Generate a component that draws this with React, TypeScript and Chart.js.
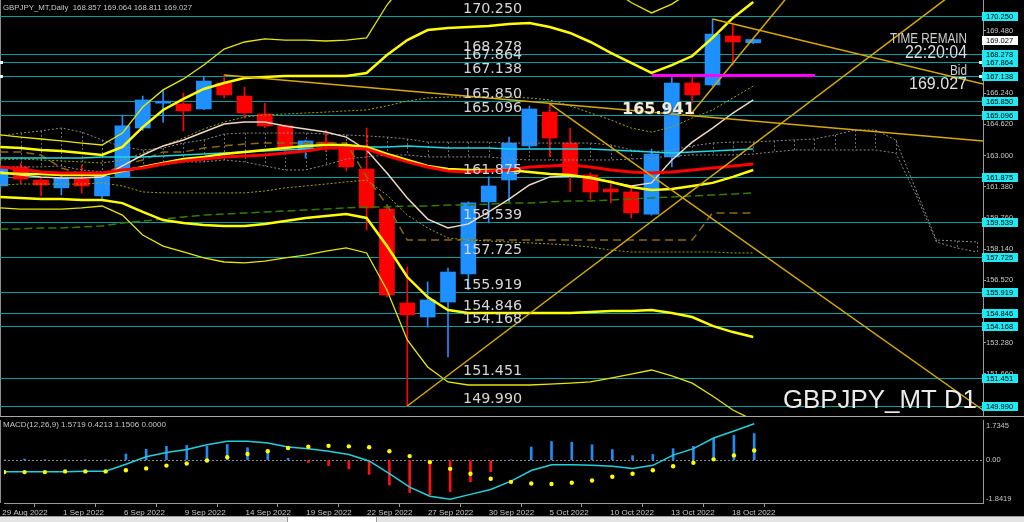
import React, { useEffect, useRef } from "react";
import { Chart, registerables } from "chart.js";
Chart.register(...registerables);

// ---------- candles (bar index 0 = 29 Aug 2022) ----------
const OPEN = [161.42,162.41,161.73,161.32,161.78,160.90,161.89,164.43,165.72,165.68,165.42,166.77,166.09,165.16,164.54,163.24,163.70,163.45,162.30,160.22,155.34,154.61,155.39,156.85,160.59,161.73,163.50,165.26,163.65,161.99,161.26,161.11,159.96,162.93,166.77,166.67,169.21,168.857];
const HIGH = [162.45,162.60,161.80,161.95,162.51,161.95,165.11,166.09,166.41,166.25,167.08,167.18,166.56,165.73,164.60,163.80,164.30,163.70,164.43,160.38,157.21,156.43,157.16,160.60,161.89,163.96,165.57,165.68,164.43,162.10,161.73,161.37,163.34,167.13,167.13,170.09,169.78,169.064];
const LOW = [161.30,161.55,160.90,160.95,161.05,160.69,161.85,164.30,164.74,164.28,165.38,166.00,164.95,164.45,163.20,162.87,163.20,162.20,159.13,155.65,149.99,154.09,152.54,156.02,159.50,160.59,163.40,162.93,161.11,160.74,160.54,159.76,159.90,162.41,165.73,166.60,167.70,168.811];
const CLOSE = [162.35,161.78,161.47,161.83,161.42,161.94,164.54,165.89,165.74,165.32,166.87,166.15,165.21,164.54,163.39,163.76,163.55,162.41,160.28,155.76,154.72,155.50,156.95,160.54,161.42,163.65,165.42,163.91,161.99,161.11,161.11,160.02,163.08,166.77,166.15,169.31,168.90,169.027];

// ---------- indicators ----------
const BB_MID = [162.09,162.04,162.04,161.99,161.99,161.99,162.20,162.41,162.61,162.82,162.93,163.08,163.19,163.29,163.39,163.50,163.55,163.55,163.45,163.08,162.77,162.46,162.30,162.25,162.25,162.25,162.15,162.04,161.99,161.83,161.63,161.37,161.21,161.26,161.42,161.58,161.89,162.25];
const BB_UP1 = [162.77,162.82,162.77,162.72,162.67,162.61,162.77,163.13,163.50,163.91,164.38,164.74,165.00,165.11,165.16,165.21,165.26,165.32,165.37,165.58,165.83,165.99,166.04,166.04,166.04,166.04,165.99,165.89,165.58,165.21,164.85,164.43,164.22,164.48,164.95,165.37,165.99,166.61];
const BB_LO1 = [161.47,161.52,161.52,161.52,161.52,161.58,161.42,161.11,161.06,161.06,161.06,161.06,161.06,161.16,161.32,161.42,161.52,161.63,161.73,160.95,159.91,159.24,158.72,158.61,158.56,158.51,158.46,158.41,158.35,158.25,158.09,157.99,157.99,157.99,157.99,157.99,157.94,157.94];
const BB_UP2 = [163.45,163.39,163.29,163.24,163.13,163.03,163.45,164.48,165.37,165.94,166.46,166.77,167.03,167.08,167.13,167.13,167.13,167.13,167.29,168.22,169.00,169.52,169.63,169.68,169.73,169.83,169.89,169.68,169.37,168.90,168.33,167.81,167.29,167.70,168.17,169.11,170.15,170.98];
const BB_LO2 = [160.85,160.80,160.74,160.74,160.69,160.69,160.53,160.07,159.65,159.50,159.39,159.34,159.34,159.44,159.60,159.76,159.86,159.96,159.76,158.30,156.69,155.65,154.98,154.82,154.82,154.82,154.82,154.82,154.82,154.87,154.92,154.92,154.98,154.82,154.61,154.15,153.83,153.57];
const BB_UP3 = [164.07,163.96,163.86,163.76,163.65,163.55,164.17,165.52,166.41,166.98,167.70,168.53,168.90,169.06,169.00,169.00,168.95,169.00,169.11,170.82,172.12,173.05,173.30,173.40,173.47,173.62,173.76,173.50,173.06,172.43,171.68,170.95,170.41,170.87,171.55,172.87,174.28,175.35];
const BB_LO3 = [160.28,160.22,160.22,160.22,160.28,160.38,159.91,158.87,158.30,157.99,157.68,157.47,157.42,157.52,157.68,157.83,158.04,158.20,157.94,156.02,153.42,152.02,151.24,151.08,151.08,151.08,151.08,151.13,151.18,151.24,151.44,151.65,151.86,151.55,151.18,150.51,149.78,149.26];
const MA_RED = [162.41,162.30,162.15,162.09,162.09,162.09,162.25,162.35,162.56,162.72,162.82,162.93,162.98,163.03,163.13,163.24,163.39,163.39,163.34,162.98,162.67,162.41,162.20,162.15,162.20,162.25,162.41,162.46,162.51,162.41,162.25,162.15,162.09,162.15,162.25,162.35,162.46,162.56];
const MA_CYAN = [162.87,162.87,162.87,162.87,162.87,162.93,162.93,162.93,162.98,163.03,163.08,163.13,163.19,163.24,163.29,163.34,163.39,163.45,163.45,163.45,163.50,163.45,163.39,163.39,163.39,163.34,163.34,163.34,163.34,163.34,163.29,163.24,163.19,163.13,163.19,163.24,163.29,163.34];
const MA_BEIGE = [162.15,161.99,161.89,161.83,161.83,161.89,162.46,163.03,163.50,163.81,164.22,164.64,164.74,164.74,164.54,164.38,164.22,163.96,163.29,162.09,160.80,159.70,159.24,159.45,160.07,160.74,161.47,161.89,161.94,161.89,161.63,161.42,161.58,162.77,163.70,164.43,165.21,165.89];
const MA_GREEN = [159.19,159.19,159.24,159.24,159.29,159.34,159.50,159.60,159.70,159.81,159.91,159.96,160.01,160.07,160.12,160.17,160.22,160.28,160.33,160.33,160.38,160.38,160.43,160.43,160.48,160.54,160.54,160.59,160.64,160.64,160.69,160.74,160.80,160.85,160.90,160.95,161.00,161.06];
const KIJUN = [163.19,163.19,163.03,162.35,162.04,162.04,162.51,162.77,163.19,163.19,163.39,163.50,163.60,163.65,163.65,163.65,163.65,163.65,161.89,160.43,158.61,158.61,158.61,158.61,158.61,158.61,158.61,158.61,158.61,158.61,158.61,158.61,158.61,158.61,158.61,160.02,160.02,160.02];
const CLOUD_A = [164.02,164.17,164.28,164.43,164.22,163.81,163.45,163.29,163.39,163.65,163.81,164.12,164.17,164.17,164.17,164.17,164.12,164.07,164.02,163.96,163.86,163.70,163.70,163.70,163.70,163.65,163.65,163.65,163.65,163.65,163.55,163.29,163.19,163.29,163.50,163.65,163.70,163.70,163.76,163.81,163.86,164.07,164.33,164.33,163.81,161.21,158.61,158.56,158.51];
const CLOUD_B = [162.41,162.41,162.41,162.46,162.25,162.15,162.15,162.35,162.51,162.67,162.67,162.77,162.67,162.46,162.25,162.25,162.51,162.82,162.93,163.03,163.03,162.93,162.93,162.93,162.93,162.82,162.77,162.77,162.77,162.77,162.77,162.82,162.87,162.98,163.03,163.03,163.03,163.08,163.19,163.29,163.29,163.29,163.29,163.29,163.13,160.95,158.51,158.20,157.99];

// ---------- drawn objects: [x1 (bar index), price1, x2, price2] ----------
const TREND_1 = [11, 167.18, 48.3, 163.75];
const TREND_2 = [35, 170.09, 48.3, 166.72];
const TREND_3 = [27, 165.68, 48.3, 149.77];
const TREND_4 = [20, 149.99, 48.3, 172.6];
const TREND_5 = [33.9, 165.11, 39.5, 172.3];
const MAGENTA_LINE = [32.02, 167.16, 40.03, 167.16];
const LEVELS = [170.250,168.278,167.864,167.138,165.850,165.096,161.875,159.539,157.725,155.919,154.846,154.168,151.451,149.990];
const MARKED_LEVELS = [167.864, 167.138];
const PRICE_TICKS = [169.48,167.86,166.24,164.62,163.00,161.38,159.76,158.14,156.52,154.90,153.28,151.66,150.04];
const BID = 169.027;
const OBJ_LABEL = "165.941";
const OBJ_LABEL_POS = [30.55, 165.37];
const LEVEL_LABEL_X = 22.74;

// ---------- MACD ----------
const MACD_MAIN = [-0.50,-0.50,-0.49,-0.49,-0.47,-0.47,-0.17,0.15,0.33,0.46,0.67,0.82,0.82,0.74,0.57,0.50,0.39,0.25,-0.03,-0.58,-1.16,-1.55,-1.68,-1.47,-1.26,-0.90,-0.44,-0.19,-0.19,-0.22,-0.26,-0.36,-0.22,0.22,0.50,0.96,1.26,1.5719];
const MACD_SIGNAL = [-0.51,-0.51,-0.51,-0.48,-0.48,-0.48,-0.43,-0.35,-0.23,-0.14,-0.01,0.13,0.27,0.39,0.53,0.58,0.62,0.60,0.56,0.39,0.18,-0.08,-0.37,-0.58,-0.80,-0.93,-1.00,-1.02,-0.97,-0.87,-0.71,-0.58,-0.43,-0.26,-0.11,0.04,0.21,0.4213];
const MACD_HIST = [0.01,0.05,0.01,0.02,0.01,0.02,0.27,0.47,0.60,0.64,0.60,0.68,0.54,0.39,0.08,-0.10,-0.23,-0.37,-0.61,-1.07,-1.39,-1.49,-1.35,-0.93,-0.49,0.02,0.57,0.81,0.78,0.67,0.46,0.20,0.25,0.50,0.60,0.94,1.08,1.1506];
const MACD_AXIS = [1.7345, 0, -1.8419];
const MACD_AXIS_TEXT = ["1.7345", "0.00", "-1.8419"];

// ---------- time axis ----------
const DATE_INDEX = [0,3,6,9,12,15,18,21,24,27,30,33,36];
const DATE_LABELS = ["29 Aug 2022","1 Sep 2022","6 Sep 2022","9 Sep 2022","14 Sep 2022","19 Sep 2022","22 Sep 2022","27 Sep 2022","30 Sep 2022","5 Oct 2022","10 Oct 2022","13 Oct 2022","18 Oct 2022"];

const HEADER = "GBPJPY_MT,Daily  168.857 169.064 168.811 169.027";
const MACD_HEADER = "MACD(12,26,9) 1.5719 0.4213 1.1506 0.0000";

const X_MIN = -0.015, X_MAX = 48.29;
const P_MIN = 149.47, P_MAX = 171.081;
const MACD_MIN = -1.8419, MACD_MAX = 1.7345;

const UP = "#1e90ff", DOWN = "#ff0000", GOLD = "#d6aa00", LEVEL_COLOR = "#00a2a2";
const AXIS_GRAY = "#9a9a9a", TXT = "#c8c8c8";
const SMALL = '"Liberation Sans"';

const pts = (arr: number[]) => arr.map((v, i) => ({ x: i, y: v }));
const seg = (s: number[]) => [{ x: s[0], y: s[1] }, { x: s[2], y: s[3] }];
function line(data: any[], color: string, width: number, dash: number[] = []) {
  return { type: "line", data, borderColor: color, borderWidth: width, borderDash: dash, pointRadius: 0, tension: 0, fill: false, clip: 0 };
}

function fitText(ctx: any, text: string, x: number, y: number, font: string, width: number, align: string, color: string) {
  ctx.save();
  ctx.font = font;
  ctx.fillStyle = color;
  ctx.textBaseline = "alphabetic";
  ctx.textAlign = align;
  const w = ctx.measureText(text).width || 1;
  ctx.translate(x, y);
  ctx.scale(width / w, 1);
  ctx.fillText(text, 0, 0);
  ctx.restore();
}

const mainDecor = {
  id: "mainDecor",
  beforeDatasetsDraw(chart: any) {
    const { ctx, chartArea: a, scales } = chart;
    const x = scales.x, y = scales.y;
    ctx.save();
    ctx.beginPath();
    ctx.rect(a.left, a.top, a.right - a.left, a.bottom - a.top);
    ctx.clip();
    ctx.lineWidth = 1;
    ctx.strokeStyle = "#8c8c8c";
    ctx.beginPath(); ctx.moveTo(0.5, a.top); ctx.lineTo(0.5, a.bottom); ctx.stroke();
    ctx.strokeStyle = "#6a6a6a";
    ctx.setLineDash([2, 2]);
    CLOUD_A.forEach((v, i) => {
      const px = Math.round(x.getPixelForValue(i)) + 0.5;
      ctx.beginPath();
      ctx.moveTo(px, y.getPixelForValue(v));
      ctx.lineTo(px, y.getPixelForValue(CLOUD_B[i]));
      ctx.stroke();
    });
    ctx.setLineDash([]);
    ctx.strokeStyle = LEVEL_COLOR;
    LEVELS.forEach((v) => {
      const py = Math.round(y.getPixelForValue(v)) + 0.5;
      ctx.beginPath(); ctx.moveTo(a.left, py); ctx.lineTo(a.right, py); ctx.stroke();
    });
    ctx.restore();
  },
  afterDatasetsDraw(chart: any) {
    const { ctx, chartArea: a, scales } = chart;
    const x = scales.x, y = scales.y;
    const lx = x.getPixelForValue(LEVEL_LABEL_X);
    LEVELS.forEach((v) => {
      const py = Math.round(y.getPixelForValue(v));
      fitText(ctx, v.toFixed(3), lx, py - 3, '14px "DejaVu Sans"', 59, "left", "#d6d6d6");
    });
    ctx.save();
    ctx.font = 'bold 16px "DejaVu Sans"';
    ctx.textBaseline = "middle";
    ctx.fillStyle = "rgba(60,50,30,0.8)";
    const ox = x.getPixelForValue(OBJ_LABEL_POS[0]), oy = y.getPixelForValue(OBJ_LABEL_POS[1]);
    ctx.fillText(OBJ_LABEL, ox + 1, oy + 1);
    ctx.fillStyle = "#f4ecda";
    ctx.fillText(OBJ_LABEL, ox, oy);
    ctx.restore();
    const rx = a.right - 16;
    fitText(ctx, "TIME REMAIN", rx, 43, '15px "Liberation Sans"', 77, "right", "#cfcfcf");
    fitText(ctx, "22:20:04", rx, 58, '18px "Liberation Sans"', 62, "right", "#dcdcdc");
    fitText(ctx, "Bid", rx, 75, '14px "Liberation Sans"', 17, "right", "#cfcfcf");
    fitText(ctx, BID.toFixed(3), rx, 89, '17px "Liberation Sans"', 58, "right", "#e0e0e0");
    fitText(ctx, "GBPJPY_MT D1", a.right - 6, 408, '26px "Liberation Sans"', 194, "right", "#ececec");
    fitText(ctx, HEADER, 3, 10, '8px ' + SMALL, 189, "left", TXT);
    ctx.save();
    ctx.fillStyle = "#e8f8ff";
    MARKED_LEVELS.forEach((v) => {
      const py = Math.round(y.getPixelForValue(v));
      ctx.fillRect(0, py - 1, 3, 3);
      ctx.fillRect(a.right - 4, py - 1, 3, 3);
    });
    ctx.restore();
  },
  afterDraw(chart: any) {
    const { ctx, chartArea: a, scales } = chart;
    const y = scales.y;
    ctx.save();
    ctx.font = '7.5px ' + SMALL;
    ctx.textBaseline = "middle";
    ctx.textAlign = "left";
    const box = (v: number, bg: string) => {
      const py = Math.round(y.getPixelForValue(v));
      ctx.fillStyle = bg;
      ctx.fillRect(a.right - 1, py - 4, 36, 9);
      ctx.fillStyle = "#000";
      ctx.fillText(v.toFixed(3), a.right + 3, py + 0.5);
    };
    LEVELS.forEach((v) => box(v, "#22e8f2"));
    box(BID, "#ffffff");
    ctx.restore();
  },
};

const macdDecor = {
  id: "macdDecor",
  beforeDatasetsDraw(chart: any) {
    const { ctx, chartArea: a, scales } = chart;
    const y = scales.y;
    ctx.save();
    ctx.lineWidth = 1;
    ctx.strokeStyle = "#a8a8a8";
    ctx.beginPath(); ctx.moveTo(0, 0.5); ctx.lineTo(1024, 0.5); ctx.stroke();
    ctx.strokeStyle = "#8c8c8c";
    ctx.beginPath(); ctx.moveTo(0.5, a.top); ctx.lineTo(0.5, a.bottom); ctx.stroke();
    ctx.strokeStyle = "#8a8a8a";
    ctx.setLineDash([2, 2]);
    const z = Math.round(y.getPixelForValue(0)) + 0.5;
    ctx.beginPath(); ctx.moveTo(a.left, z); ctx.lineTo(a.right, z); ctx.stroke();
    ctx.restore();
  },
  afterDraw(chart: any) {
    const { ctx, chartArea: a, scales } = chart;
    const y = scales.y;
    fitText(ctx, MACD_HEADER, 3, 11, '8px ' + SMALL, 163, "left", TXT);
    ctx.save();
    ctx.font = '7.5px ' + SMALL;
    ctx.fillStyle = TXT;
    ctx.textBaseline = "middle";
    ctx.textAlign = "left";
    const offs = [6, 0, -4];
    MACD_AXIS.forEach((v, i) => {
      ctx.fillText(MACD_AXIS_TEXT[i], a.right + 3, y.getPixelForValue(v) + offs[i]);
    });
    ctx.restore();
  },
};

function mainConfig(): any {
  const candleColors = CLOSE.map((c, i) => (c >= OPEN[i] ? UP : DOWN));
  return {
    type: "bar",
    data: {
      datasets: [
        line(seg(MAGENTA_LINE), "#ff00ff", 3),
        line(seg(TREND_1), GOLD, 1.5),
        line(seg(TREND_2), GOLD, 1.5),
        line(seg(TREND_3), GOLD, 1.5),
        line(seg(TREND_4), GOLD, 1.5),
        line(seg(TREND_5), GOLD, 1.5),
        line(pts(BB_UP2), "#ffff00", 2.5),
        line(pts(BB_LO2), "#ffff00", 2.5),
        line(pts(MA_RED), "#ff0000", 3),
        line(pts(BB_MID), "#ffff00", 2.5),
        line(pts(BB_UP3), "#e6e600", 1.3),
        line(pts(BB_LO3), "#e6e600", 1.3),
        line(pts(MA_BEIGE), "#ecd8c4", 1.5),
        line(pts(MA_CYAN), "#1ed8e2", 1.5),
        line(pts(BB_UP1), "#a4a400", 1, [2, 2]),
        line(pts(BB_LO1), "#a4a400", 1, [2, 2]),
        line(pts(MA_GREEN), "#327d00", 1.5, [8, 4]),
        line(pts(KIJUN), "#8c6a10", 1.5, [8, 5]),
        line(pts(CLOUD_A), "#8a8a8a", 1, [2, 2]),
        line(pts(CLOUD_B), "#8a8a8a", 1, [2, 2]),
        {
          type: "bar",
          data: LOW.map((l, i) => ({ x: i, y: [l, HIGH[i]] })),
          backgroundColor: candleColors,
          borderWidth: 0,
          barThickness: 1,
          grouped: false,
        },
        {
          type: "bar",
          data: OPEN.map((o, i) => ({ x: i, y: [o, CLOSE[i]] })),
          backgroundColor: candleColors,
          borderWidth: 0,
          barThickness: 15,
          minBarLength: 2,
          grouped: false,
        },
      ],
    },
    options: {
      responsive: false,
      animation: false,
      devicePixelRatio: 1,
      events: [],
      layout: { padding: 0 },
      plugins: { legend: { display: false }, tooltip: { enabled: false } },
      scales: {
        x: { type: "linear", min: X_MIN, max: X_MAX, display: false, offset: false },
        y: {
          type: "linear",
          position: "right",
          min: P_MIN,
          max: P_MAX,
          afterBuildTicks: (s: any) => { s.ticks = PRICE_TICKS.map((v) => ({ value: v })); },
          afterFit: (s: any) => { s.width = 41; s.paddingTop = 0; s.paddingBottom = 0; },
          ticks: {
            callback: (v: any) => Number(v).toFixed(3),
            color: TXT,
            font: { family: "Liberation Sans", size: 7.5 },
            padding: 0,
            autoSkip: false,
          },
          grid: { drawOnChartArea: false, tickLength: 3, tickColor: AXIS_GRAY },
          border: { color: AXIS_GRAY },
        },
      },
    },
    plugins: [mainDecor],
  };
}

function macdConfig(): any {
  return {
    type: "bar",
    data: {
      datasets: [
        {
          type: "line",
          data: pts(MACD_SIGNAL),
          showLine: false,
          pointRadius: 2.2,
          pointBackgroundColor: "#ffff00",
          pointBorderWidth: 0,
          clip: 0,
        },
        line(pts(MACD_MAIN), "#22d0dc", 1.5),
        {
          type: "bar",
          data: pts(MACD_HIST),
          backgroundColor: MACD_HIST.map((v) => (v >= 0 ? "#1e8cf0" : "#ff1010")),
          borderWidth: 0,
          barThickness: 2,
          grouped: false,
        },
      ],
    },
    options: {
      responsive: false,
      animation: false,
      devicePixelRatio: 1,
      events: [],
      layout: { padding: { top: 1, left: 0, right: 0, bottom: 0 } },
      plugins: { legend: { display: false }, tooltip: { enabled: false } },
      scales: {
        x: {
          type: "linear",
          position: "bottom",
          min: X_MIN,
          max: X_MAX,
          offset: false,
          afterBuildTicks: (s: any) => { s.ticks = DATE_INDEX.map((v) => ({ value: v })); },
          afterFit: (s: any) => { s.height = 19; s.paddingLeft = 0; s.paddingRight = 0; },
          ticks: {
            callback: (v: any) => DATE_LABELS[DATE_INDEX.indexOf(Number(v))],
            align: "start",
            maxRotation: 0,
            autoSkip: false,
            color: TXT,
            font: { family: "Liberation Sans", size: 8 },
            padding: 1,
            labelOffset: -2,
          },
          grid: { drawOnChartArea: false, tickLength: 4, tickColor: AXIS_GRAY },
          border: { color: AXIS_GRAY },
        },
        y: {
          type: "linear",
          position: "right",
          min: MACD_MIN,
          max: MACD_MAX,
          afterFit: (s: any) => { s.width = 41; s.paddingTop = 0; s.paddingBottom = 0; },
          ticks: { display: false },
          grid: { drawOnChartArea: false, drawTicks: false },
          border: { color: AXIS_GRAY },
        },
      },
    },
    plugins: [macdDecor],
  };
}

export default function App() {
  const mainRef = useRef<HTMLCanvasElement>(null);
  const macdRef = useRef<HTMLCanvasElement>(null);
  useEffect(() => {
    const c1 = new Chart(mainRef.current as HTMLCanvasElement, mainConfig());
    const c2 = new Chart(macdRef.current as HTMLCanvasElement, macdConfig());
    return () => { c1.destroy(); c2.destroy(); };
  }, []);
  return (
    <div style={{ position: "fixed", left: 0, top: 0, width: 1024, height: 522, background: "#000", overflow: "hidden" }}>
      <canvas ref={mainRef} width={1024} height={416} style={{ position: "absolute", left: 0, top: 0, display: "block" }} />
      <canvas ref={macdRef} width={1024} height={106} style={{ position: "absolute", left: 0, top: 416, display: "block" }} />
      <div style={{ position: "absolute", left: 0, top: 516, width: 1024, height: 6, background: "#e4e4e4", borderTop: "1px solid #9a9a9a" }} />
      <div style={{ position: "absolute", left: 287, top: 517, width: 88, height: 5, background: "#ffffff", borderLeft: "1px solid #9a9a9a", borderRight: "1px solid #9a9a9a" }} />
    </div>
  );
}
